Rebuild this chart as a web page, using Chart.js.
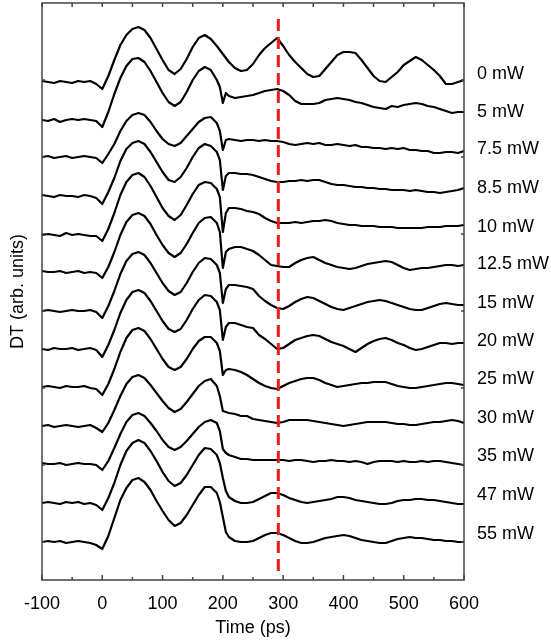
<!DOCTYPE html>
<html>
<head>
<meta charset="utf-8">
<script src="https://cdn.jsdelivr.net/npm/chart.js@4.4.1/dist/chart.umd.min.js"></script>
<style>
  html, body { margin: 0; padding: 0; background: #fff; }
  #c { display: block; }
</style>
</head>
<body>
<canvas id="c" width="551" height="640"></canvas>
<script>
// delay times (ps), shared by every trace
var times = [
  -100, -90, -80, -70, -60, -50, -40, -30, -20, -10,
  0, 10, 20, 30, 40, 50, 60, 70, 80, 90,
  100, 110, 120, 130, 140, 150, 160, 170, 180, 190,
  195, 200, 205,
  210, 220, 230, 240, 250, 260, 270, 280, 290,
  300, 310, 320, 330, 340, 350, 360, 370, 380, 390,
  400, 410, 420, 430, 440, 450, 460, 470, 480, 490,
  500, 510, 520, 530, 540, 550, 560, 570, 580, 590,
  600
];

var powerLabels = ['0 mW', '5 mW', '7.5 mW', '8.5 mW', '10 mW', '12.5 mW', '15 mW',
  '20 mW', '25 mW', '30 mW', '35 mW', '47 mW', '55 mW'];

// vertical shift of each trace (arb. units)
var offsets = [498, 460, 423, 384, 345, 308, 269, 231, 193, 154, 116, 77, 38];

// DT signals (arb. units), one per pump power
var mw0 = [
  1, 0, -1, 1, 0, -1, 1, 0, 1, -2,
  -7, 6, 22, 37, 47, 53, 55, 52, 44, 33,
  22, 12, 8, 13, 23, 35, 44, 47, 43, 36,
  32, 28, 24,
  20, 14, 11, 12, 18, 27, 34, 39, 44,
  36, 27, 20, 14, 8, 5, 6, 13, 20, 27,
  30, 30, 29, 22, 14, 6, 1, 0, 5, 10,
  17, 21, 25, 22, 17, 12, 6, -2, -2, 0,
  2
];
var mw5 = [
  0, -1, 1, -2, 0, 1, 0, 1, 0, -1,
  -7, 8, 26, 42, 54, 61, 62, 58, 49, 38,
  27, 18, 14, 18, 28, 40, 49, 53, 50, 40,
  33, 17, 27,
  24, 22, 23, 24, 25, 27, 29, 30, 31,
  29, 25, 19, 16, 16, 16, 17, 20, 21, 22,
  21, 20, 18, 17, 15, 13, 12, 11, 14, 13,
  15, 16, 17, 16, 14, 13, 11, 9, 7, 8,
  8
];
var mw75 = [
  0, 1, -1, 0, 1, -1, 0, 1, 0, -1,
  -6, 3, 13, 26, 36, 42, 44, 42, 35, 26,
  18, 13, 11, 14, 21, 28, 35, 39, 40, 34,
  26, 7, 17,
  18, 17, 16, 17, 17, 16, 17, 16, 16,
  15, 13, 12, 13, 14, 13, 14, 12, 12, 13,
  12, 11, 12, 10, 10, 9, 9, 8, 9, 8,
  9, 7, 7, 6, 6, 4, 4, 5, 5, 4,
  6
];
var mw85 = [
  1, 0, -1, 1, 0, 0, -1, 1, 0, -2,
  -8, 4, 18, 35, 47, 53, 55, 52, 44, 34,
  24, 16, 14, 19, 28, 39, 48, 52, 50, 44,
  36, 6, 20,
  23, 23, 22, 22, 21, 19, 17, 15, 14,
  14, 15, 15, 16, 15, 16, 16, 14, 12, 11,
  11, 10, 9, 9, 8, 8, 7, 7, 6, 6,
  6, 5, 6, 5, 4, 4, 3, 4, 5, 6,
  8
];
var mw10 = [
  0, 1, 0, -1, 2, 0, 1, 0, -1, -1,
  -6, 6, 22, 40, 53, 60, 62, 58, 49, 38,
  27, 19, 15, 20, 30, 41, 50, 53, 52, 46,
  38, 3, 22,
  27, 27, 26, 24, 23, 21, 17, 14, 12,
  12, 12, 13, 12, 13, 14, 14, 15, 14, 12,
  11, 10, 10, 9, 9, 9, 8, 8, 8, 7,
  7, 7, 7, 7, 8, 8, 8, 9, 9, 9,
  10
];
var mw125 = [
  1, 0, 0, 1, -1, 0, 1, -1, 0, -1,
  -6, 5, 20, 37, 50, 57, 59, 56, 48, 37,
  27, 19, 15, 19, 28, 39, 49, 54, 55, 49,
  40, 4, 20,
  23, 25, 25, 23, 21, 17, 12, 7, 6,
  5, 5, 9, 12, 14, 15, 12, 9, 7, 5,
  4, 3, 4, 6, 8, 9, 10, 11, 10, 7,
  4, 2, 3, 4, 4, 5, 6, 7, 7, 6,
  7
];
var mw15 = [
  0, 1, 0, -1, 0, 1, 0, 0, 1, -1,
  -7, 5, 20, 37, 50, 57, 59, 56, 48, 38,
  28, 20, 16, 19, 28, 39, 48, 53, 52, 46,
  38, 8, 22,
  26, 26, 25, 24, 22, 15, 10, 6, 3,
  2, 5, 9, 12, 14, 13, 10, 7, 4, 2,
  1, 3, 5, 7, 9, 10, 11, 10, 8, 6,
  4, 2, 1, 1, 3, 5, 7, 8, 7, 6,
  6
];
var mw20 = [
  0, -1, 1, 0, 0, 1, -1, 0, 1, -1,
  -8, 4, 19, 36, 49, 57, 59, 56, 48, 38,
  28, 20, 17, 20, 29, 40, 49, 54, 53, 47,
  39, 9, 22,
  26, 26, 24, 22, 21, 14, 10, 5, 0,
  1, 5, 9, 11, 13, 14, 13, 10, 7, 5,
  3, 0, -3, 1, 5, 8, 10, 11, 9, 6,
  4, 1, -1, 0, 2, 4, 6, 6, 5, 6,
  6
];
var mw25 = [
  0, 1, 0, -1, 1, 0, 0, 1, -1, -2,
  -8, 3, 18, 35, 49, 57, 59, 56, 48, 38,
  28, 20, 17, 20, 28, 38, 46, 50, 50, 44,
  36, 12, 17,
  18, 17, 15, 12, 8, 4, 1, -1, -2,
  1, 4, 6, 8, 9, 9, 7, 4, 2, 0,
  1, 2, 3, 4, 4, 5, 5, 5, 3, 1,
  0, -1, -1, 0, 1, 2, 3, 4, 4, 3,
  2
];
var mw30 = [
  0, 1, -1, 0, 1, 0, -1, 0, 1, -2,
  -6, 3, 16, 30, 42, 49, 51, 48, 41, 33,
  25, 18, 14, 17, 24, 32, 40, 45, 47, 40,
  30, 15, 14,
  13, 12, 10, 10, 7, 6, 5, 4, 3,
  4, 6, 6, 6, 6, 5, 4, 3, 2, 1,
  0, 1, 2, 3, 4, 4, 4, 4, 3, 2,
  2, 1, 1, 2, 3, 4, 4, 5, 6, 5,
  3
];
var mw35 = [
  1, 0, 0, 1, -1, 0, 1, 0, 0, -1,
  -6, 3, 16, 30, 42, 49, 51, 48, 41, 33,
  24, 17, 14, 17, 23, 30, 37, 42, 44, 41,
  33, 15, 11,
  9, 7, 5, 5, 4, 4, 4, 4, 4,
  4, 3, 4, 4, 3, 2, 3, 3, 4, 3,
  3, 2, 3, 2, 0, 2, 3, 3, 3, 2,
  3, 2, 2, 3, 2, 3, 3, 2, 1, 0,
  -1
];
var mw47 = [
  0, 1, 0, -1, 1, 0, 1, -1, 0, -2,
  -7, 5, 20, 38, 52, 60, 63, 60, 52, 42,
  31, 22, 17, 20, 28, 38, 48, 55, 54, 48,
  40, 25, 12,
  6, 2, 0, 0, 1, 4, 7, 10, 10,
  8, 5, 3, 1, 0, 1, 2, 3, 4, 6,
  6, 5, 3, 2, 1, 0, -1, -1, 0, 2,
  3, 3, 4, 4, 3, 3, 2, 1, 0, -1,
  -1
];
var mw55 = [
  0, 1, 0, 1, -1, 0, 1, 0, -1, -3,
  -7, 6, 24, 42, 54, 62, 64, 60, 52, 41,
  31, 22, 16, 19, 27, 37, 47, 55, 55, 49,
  40, 25, 10,
  5, 1, 0, 0, 1, 4, 7, 9, 9,
  7, 4, 1, -1, -1, 0, 2, 4, 5, 6,
  7, 6, 4, 2, 1, 0, -1, -1, 1, 3,
  4, 5, 4, 4, 3, 2, 2, 1, 1, 0,
  0
];

var traces = [mw0, mw5, mw75, mw85, mw10, mw125, mw15, mw20, mw25, mw30, mw35, mw47, mw55];

// red dashed marker
var markerTime = 292;
var markerSpan = [9, 567];

var xMajorTicks = [-100, 0, 100, 200, 300, 400, 500, 600];
var xMinorTicks = [-50, 50, 150, 250, 350, 450, 550];
var yTicks = [500, 423, 346, 269, 192, 115, 38];

Chart.defaults.font.family = '"Liberation Sans", Arial, sans-serif';
Chart.defaults.color = '#000';

var datasets = [];
datasets.push({
    data: [{ x: markerTime, y: markerSpan[0] }, { x: markerTime, y: markerSpan[1] }],
    borderColor: '#ee1c1c',
    borderWidth: 3,
    borderDash: [12, 6],
    pointRadius: 0
});
for(var i = 0; i < traces.length; i++) {
    var vals = traces[i];
    var off = offsets[i];
    datasets.push({
        data: times.map(function(t, k) { return { x: t, y: off + vals[k] }; }),
        borderColor: '#000',
        borderWidth: 2.2,
        pointRadius: 0,
        tension: 0,
        borderJoinStyle: 'round'
    });
}

// frame, inward ticks and the power labels
var decor = {
    id: 'decor',
    afterDraw: function(chart) {
        var ctx = chart.ctx;
        var a = chart.chartArea;
        var xs = chart.scales.x;
        var ys = chart.scales.y;
        ctx.save();
        ctx.strokeStyle = '#444';
        ctx.lineWidth = 1.5;
        ctx.strokeRect(a.left, a.top, a.right - a.left, a.bottom - a.top);

        ctx.beginPath();
        xMajorTicks.forEach(function(v) {
            var px = xs.getPixelForValue(v);
            ctx.moveTo(px, a.bottom); ctx.lineTo(px, a.bottom - 5);
            ctx.moveTo(px, a.top); ctx.lineTo(px, a.top + 4);
        });
        xMinorTicks.forEach(function(v) {
            var px = xs.getPixelForValue(v);
            ctx.moveTo(px, a.bottom); ctx.lineTo(px, a.bottom - 3);
            ctx.moveTo(px, a.top); ctx.lineTo(px, a.top + 4);
        });
        yTicks.forEach(function(v) {
            var py = ys.getPixelForValue(v);
            ctx.moveTo(a.left, py); ctx.lineTo(a.left + 3, py);
            ctx.moveTo(a.right, py); ctx.lineTo(a.right - 3, py);
        });
        ctx.stroke();

        ctx.fillStyle = '#000';
        ctx.font = '18px "Liberation Sans", Arial, sans-serif';
        ctx.textAlign = 'left';
        ctx.textBaseline = 'middle';
        for(var i = 0; i < powerLabels.length; i++) {
            ctx.fillText(powerLabels[i], a.right + 13, ys.getPixelForValue(offsets[i] + 8));
        }
        ctx.restore();
    }
};

new Chart(document.getElementById('c').getContext('2d'), {
    type: 'line',
    data: { datasets: datasets },
    options: {
        responsive: false,
        animation: false,
        devicePixelRatio: 1,
        layout: { padding: { top: 3, right: 87, left: 0, bottom: 0 } },
        plugins: { legend: { display: false }, tooltip: { enabled: false } },
        scales: {
            x: {
                type: 'linear',
                min: -100,
                max: 600,
                grid: { display: false, drawTicks: false },
                border: { display: false },
                ticks: { stepSize: 100, padding: 13, color: '#000', font: { size: 18 }, maxRotation: 0 },
                title: { display: true, text: 'Time (ps)', color: '#000', font: { size: 18 }, padding: { top: 0, bottom: 1 } },
                afterFit: function(s) { s.height = 60; }
            },
            y: {
                min: 0,
                max: 577,
                grid: { display: false, drawTicks: false },
                border: { display: false },
                ticks: { display: false },
                title: { display: true, text: 'DT (arb. units)', color: '#000', font: { size: 18 }, padding: { top: 7, bottom: 0 } },
                afterFit: function(s) { s.width = 42; }
            }
        }
    },
    plugins: [decor]
});
</script>
</body>
</html>
